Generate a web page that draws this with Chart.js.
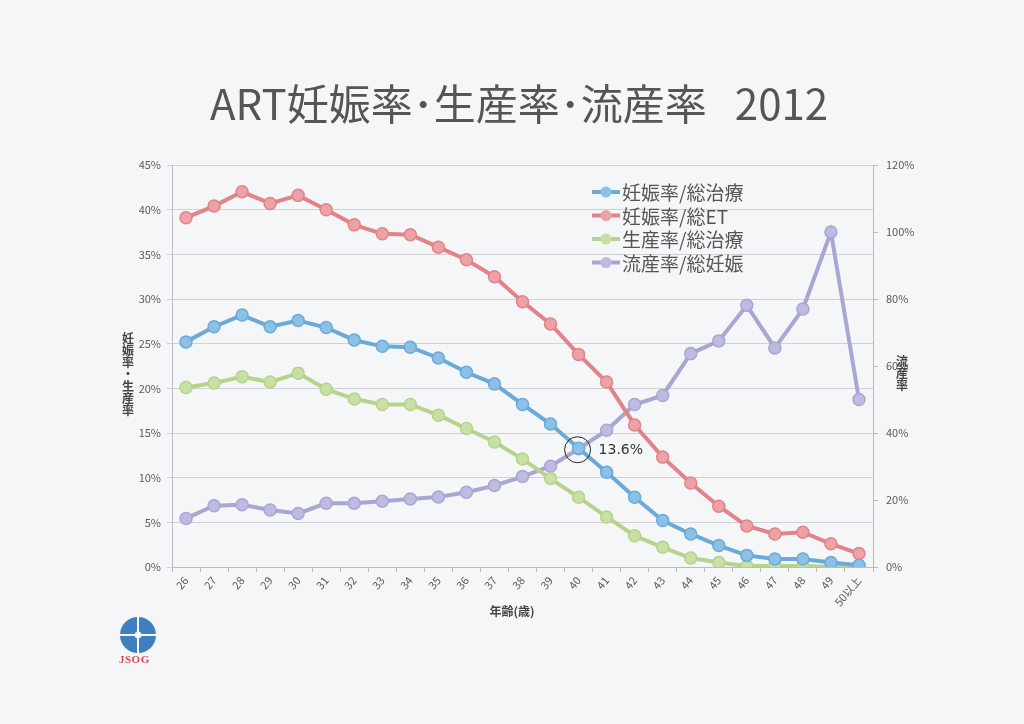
<!DOCTYPE html>
<html>
<head>
<meta charset="utf-8">
<script src="https://cdn.jsdelivr.net/npm/chart.js@4/dist/chart.umd.min.js"></script>
<style>
  html, body { margin: 0; padding: 0; background: #f5f6f8; }
  #wrap { position: relative; width: 1024px; height: 724px; }
  canvas { display: block; }
  #logo { position: absolute; left: 120px; top: 617px; width: 36px; height: 36px; border-radius: 50%;
    background: radial-gradient(circle, #f5f6f8 0 3px, #3f7fbf 4px);
  }
  #logo::before { content: ""; position: absolute; left: 17px; top: 0; width: 2px; height: 36px; background: #f5f6f8; }
  #logo::after { content: ""; position: absolute; left: 0; top: 17px; width: 36px; height: 2px; background: #f5f6f8; }
  #logotext { position: absolute; left: 119px; top: 653px; font: bold 11px "Liberation Serif", serif; color: #d9474f; letter-spacing: 0.5px; }
</style>
</head>
<body>
<div id="wrap">
  <canvas id="c" width="1024" height="724"></canvas>
  <div id="logo"></div>
  <div id="logotext">JSOG</div>
</div>
<script>
const chartTitle = 'ART妊娠率･生産率･流産率   2012';
const ages = ['26','27','28','29','30','31','32','33','34','35','36','37','38','39','40','41','42','43','44','45','46','47','48','49','50以上'];
const seriesLabels = ['妊娠率/総治療', '妊娠率/総ET', '生産率/総治療', '流産率/総妊娠'];
const pregPerTreatment = [25.2, 26.9, 28.2, 26.9, 27.6, 26.8, 25.4, 24.7, 24.6, 23.4, 21.8, 20.5, 18.2, 16.0, 13.3, 10.6, 7.8, 5.2, 3.7, 2.4, 1.3, 0.9, 0.9, 0.5, 0.2];
const pregPerET = [39.1, 40.4, 42.0, 40.7, 41.6, 40.0, 38.3, 37.3, 37.2, 35.8, 34.4, 32.5, 29.7, 27.2, 23.8, 20.7, 15.9, 12.3, 9.4, 6.8, 4.6, 3.7, 3.9, 2.6, 1.5];
const livePerTreatment = [20.1, 20.6, 21.3, 20.7, 21.7, 19.9, 18.8, 18.2, 18.2, 17.0, 15.5, 14.0, 12.1, 9.9, 7.8, 5.6, 3.5, 2.2, 1.0, 0.5, 0.1, 0.1, 0.1, 0.0, 0.0];
const miscarriagePerPreg = [14.5, 18.3, 18.6, 17.0, 16.0, 19.0, 19.0, 19.6, 20.3, 20.9, 22.3, 24.3, 27.0, 30.1, 35.3, 40.8, 48.5, 51.2, 63.7, 67.5, 78.1, 65.4, 77.0, 100.0, 50.0];
const leftTitle = '妊娠率・生産率';
const rightTitle = '流産率';
const xTitle = '年齢(歳)';
const annotationText = '13.6%';
const annotationIndex = 14;

const lineColors = ['#6aaad8', '#e2838a', '#b6d38c', '#a8a6d2'];
const pointFills = ['#8cc0e6', '#eca2a6', '#c8e0a6', '#bdbce0'];

const tickColor = '#5a5a5a';
const FONT = '"Noto Sans CJK JP", "Noto Sans", sans-serif';

function ds(label, data, i, axis) {
  return {
    label, data, yAxisID: axis,
    borderColor: lineColors[i], backgroundColor: pointFills[i],
    pointBackgroundColor: pointFills[i], pointBorderColor: lineColors[i],
    borderWidth: 4, pointRadius: 6, pointBorderWidth: 1.5, tension: 0, fill: false
  };
}

const overlay = {
  id: 'overlay',
  afterDraw(chart) {
    const ctx = chart.ctx;
    ctx.save();
    // title
    ctx.fillStyle = '#555';
    ctx.font = '42px ' + FONT;
    ctx.textAlign = 'center';
    ctx.textBaseline = 'middle';
    ctx.fillText(chartTitle, 519, 104);
    // left title stacked
    ctx.font = 'bold 12px ' + FONT;
    ctx.fillStyle = '#444';
    const lt = Array.from(leftTitle);
    lt.forEach((ch, k) => ctx.fillText(ch, 128, 338 + k * 12));
    const rt = Array.from(rightTitle);
    rt.forEach((ch, k) => ctx.fillText(ch, 902, 361 + k * 12));
    // x title
    ctx.fillText(xTitle, 512, 611);
    // legend
    ctx.textAlign = 'left';
    ctx.font = '19px ' + FONT;
    chart.data.datasets.forEach((d, i) => {
      const y = 192 + i * 23.5;
      ctx.strokeStyle = lineColors[i];
      ctx.lineWidth = 4;
      ctx.beginPath(); ctx.moveTo(592, y); ctx.lineTo(620, y); ctx.stroke();
      ctx.fillStyle = pointFills[i];
      ctx.beginPath(); ctx.arc(606, y, 5.5, 0, Math.PI * 2); ctx.fill();
      ctx.fillStyle = '#555';
      ctx.fillText(d.label, 622, y + 1);
    });
    // annotation circle
    const pt = chart.getDatasetMeta(3).data[annotationIndex];
    ctx.strokeStyle = '#222';
    ctx.lineWidth = 1;
    ctx.beginPath(); ctx.arc(pt.x - 1, pt.y + 1, 13, 0, Math.PI * 2); ctx.stroke();
    ctx.fillStyle = '#333';
    ctx.font = '14px "DejaVu Sans", sans-serif';
    ctx.fillText(annotationText, pt.x + 20, pt.y + 2);
    ctx.restore();
  }
};

new Chart(document.getElementById('c'), {
  type: 'line',
  data: {
    labels: ages,
    datasets: [
      ds(seriesLabels[0], pregPerTreatment, 0, 'y'),
      ds(seriesLabels[1], pregPerET, 1, 'y'),
      ds(seriesLabels[2], livePerTreatment, 2, 'y'),
      ds(seriesLabels[3], miscarriagePerPreg, 3, 'y1')
    ]
  },
  options: {
    responsive: false,
    animation: false,
    layout: { padding: { top: 165, bottom: 0, left: 0, right: 0 } },
    plugins: { legend: { display: false }, title: { display: false }, tooltip: { enabled: false } },
    scales: {
      x: {
        offset: true,
        grid: { display: true, drawOnChartArea: false, drawTicks: true, tickLength: 5, offset: true, color: '#b9bcc2' },
        border: { display: true, color: '#b9bcc2' },
        ticks: { color: tickColor, font: { size: 11, family: FONT }, minRotation: 50, maxRotation: 50, padding: 2 },
        afterFit(s) { s.height = 157; }
      },
      y: {
        position: 'left',
        min: 0, max: 45,
        ticks: { stepSize: 5, color: tickColor, font: { size: 11, family: FONT }, callback: v => v + '%', padding: 6 },
        grid: { color: '#cfd1d6', tickLength: 5, lineWidth: 1 },
        border: { display: true, color: '#b9bcc2' },
        afterFit(s) { s.width = 172; }
      },
      y1: {
        position: 'right',
        min: 0, max: 120,
        ticks: { stepSize: 20, color: tickColor, font: { size: 11, family: FONT }, callback: v => v + '%', padding: 8 },
        grid: { drawOnChartArea: false, tickLength: 5, color: '#b9bcc2' },
        border: { display: true, color: '#b9bcc2' },
        afterFit(s) { s.width = 151; }
      }
    }
  },
  plugins: [overlay]
});
</script>
</body>
</html>
